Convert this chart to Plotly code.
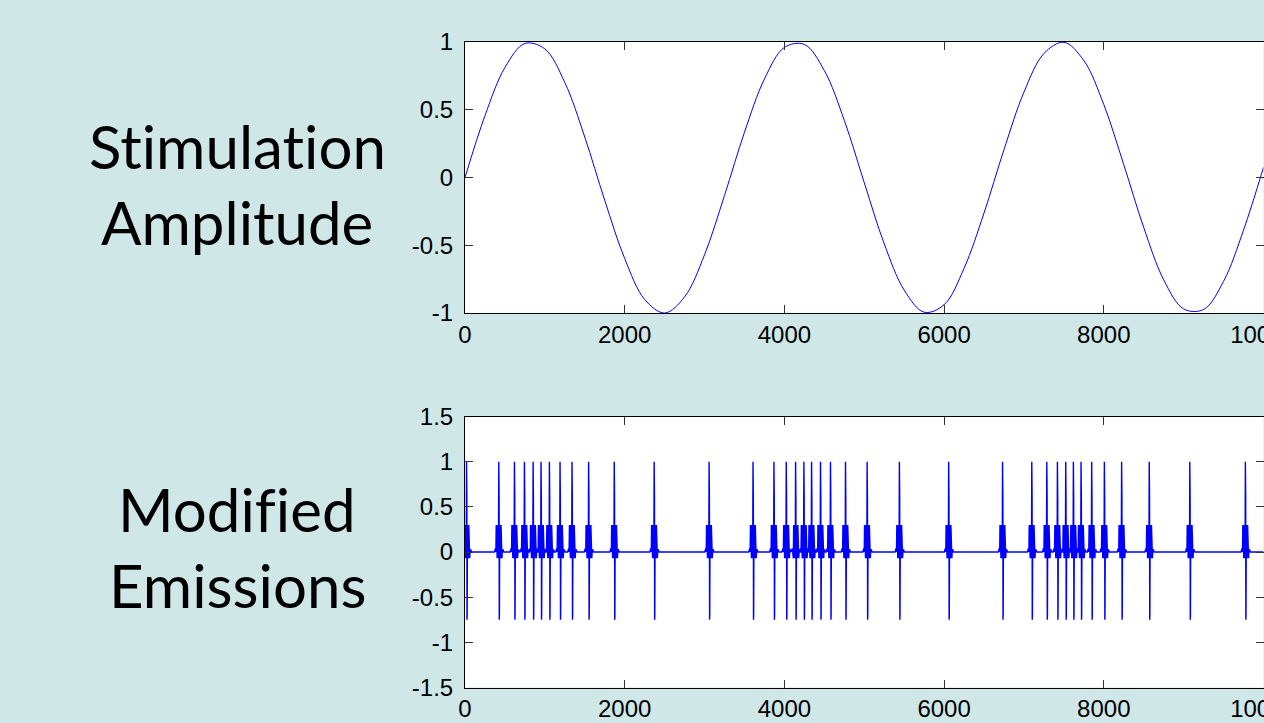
import plotly.graph_objects as go

# ---- data ----
sine_x = [0, 250, 500, 750, 1000, 1250, 1500, 1750, 2000, 2250, 2500, 2750, 3000, 3250,
          3500, 3750, 4000, 4250, 4500, 4750, 5000, 5250, 5500, 5750, 6000, 6250, 6500,
          6750, 7000, 7250, 7500, 7750, 8000, 8250, 8500, 8750, 9000, 9250, 9500, 9750, 10000]
sine_y = [0.0, 0.456, 0.812, 0.989, 0.949, 0.701, 0.298, -0.169, -0.598, -0.900, -1.0,
          -0.881, -0.570, -0.132, 0.334, 0.727, 0.960, 0.982, 0.789, 0.422, -0.038, -0.489,
          -0.831, -0.994, -0.939, -0.670, -0.262, 0.206, 0.630, 0.915, 0.998, 0.863, 0.538,
          0.095, -0.369, -0.755, -0.970, -0.974, -0.766, -0.388, 0.075]

# emission event positions (x)
event_times = [25, 429, 625, 750, 859, 958, 1063, 1196, 1346, 1554, 1875, 2375, 3063,
               3613, 3875, 4029, 4146, 4250, 4346, 4458, 4583, 4771, 5042, 5446, 6063,
               6738, 7104, 7292, 7425, 7529, 7625, 7721, 7854, 8013, 8229, 8575, 9083, 9779]

# shape of one emission burst: offset from event time and amplitude
burst_dt = [-60, -48, -42, -38, -34, -30, -26, -22, -18, -14, -10, -6, -2, 0, 2, 6, 10,
            14, 18, 22, 26, 30, 34, 38, 44, 56]
burst_val = [0.0, 0.04, 0.0, 0.3, -0.07, 0.3, -0.07, 0.3, -0.07, 0.3, -0.07, 1.0, 0.6,
             -0.75, -0.7, 0.3, -0.07, 0.3, -0.07, 0.3, -0.07, 0.3, -0.07, 0.0, 0.03, 0.0]

x_range = [0, 10000]
x_ticks = [0, 2000, 4000, 6000, 8000, 10000]
top_y_ticks = [-1, -0.5, 0, 0.5, 1]
bot_y_ticks = [-1.5, -1, -0.5, 0, 0.5, 1, 1.5]
top_y_labels = ["-1", "-0.5", "0", "0.5", "1"]
bot_y_labels = ["-1.5", "-1", "-0.5", "0", "0.5", "1", "1.5"]

# zero-width non-joiners keep the glyphs separate (no ti / fi ligatures)
labels_top = ["St\u200cimulat\u200cion", "Amplitude"]
labels_bottom = ["Modif\u200cied", "Emissions"]

# ---- build emission trace ----
em_x, em_y = [x_range[0]], [0.0]
for t in event_times:
    for dt, v in zip(burst_dt, burst_val):
        em_x.append(t + dt)
        em_y.append(v)
em_x.append(x_range[1])
em_y.append(0.0)

W, H = 1264, 723
BG = "#D0E7E8"
BLUE = "#0000FF"
TICKFONT = dict(family="Liberation Sans, Arial, sans-serif", size=24, color="black")
LABELFONT = dict(family="Lato, Carlito, Calibri, sans-serif", size=60, color="black")

fig = go.Figure()
fig.add_trace(go.Scatter(x=sine_x, y=sine_y, mode="lines", line=dict(color=BLUE, width=1, shape="spline"),
                         xaxis="x", yaxis="y", showlegend=False, hoverinfo="skip"))
fig.add_trace(go.Scatter(x=em_x, y=em_y, mode="lines", line=dict(color=BLUE, width=1.4),
                         xaxis="x2", yaxis="y2", showlegend=False, hoverinfo="skip"))

xd = [465 / W, 1263.5 / W]
top_dom = [(H - 313) / H, (H - 42) / H]
bot_dom = [(H - 687.5) / H, (H - 416.5) / H]

axis_common = dict(showline=True, linecolor="black", linewidth=1, mirror="ticks", ticks="inside",
                   ticklen=8, tickwidth=1, tickcolor="#333", showgrid=False, zeroline=False,
                   tickfont=TICKFONT, automargin=False, ticklabeloverflow="allow")

fig.update_layout(
    width=W, height=H, margin=dict(l=0, r=0, t=0, b=0, pad=0, autoexpand=False),
    paper_bgcolor=BG, plot_bgcolor="white",
    xaxis=dict(domain=xd, range=x_range, tickvals=x_ticks, ticktext=[str(v) for v in x_ticks],
               anchor="y", ticklabelstandoff=0, **axis_common),
    yaxis=dict(domain=top_dom, range=[-1, 1], tickvals=top_y_ticks, ticktext=top_y_labels,
               anchor="x", ticklabelstandoff=6, **axis_common),
    xaxis2=dict(domain=xd, range=x_range, tickvals=x_ticks, ticktext=[str(v) for v in x_ticks],
                anchor="y2", ticklabelstandoff=0, **axis_common),
    yaxis2=dict(domain=bot_dom, range=[-1.5, 1.5], tickvals=bot_y_ticks, ticktext=bot_y_labels,
                anchor="x2", ticklabelstandoff=6, **axis_common),
)

cx = 237 / W
for txt, ypx in zip(labels_top + labels_bottom, [146, 222, 509, 585]):
    fig.add_annotation(text=txt, x=cx, y=(H - ypx) / H, xref="paper", yref="paper",
                       xanchor="center", yanchor="middle", showarrow=False, font=LABELFONT)

post = ("document.body.style.margin='0';document.body.style.padding='0';"
        "document.documentElement.style.overflow='hidden';document.body.style.overflow='hidden';")
fig.write_html("out.html", post_script=post, config={"displayModeBar": False})
